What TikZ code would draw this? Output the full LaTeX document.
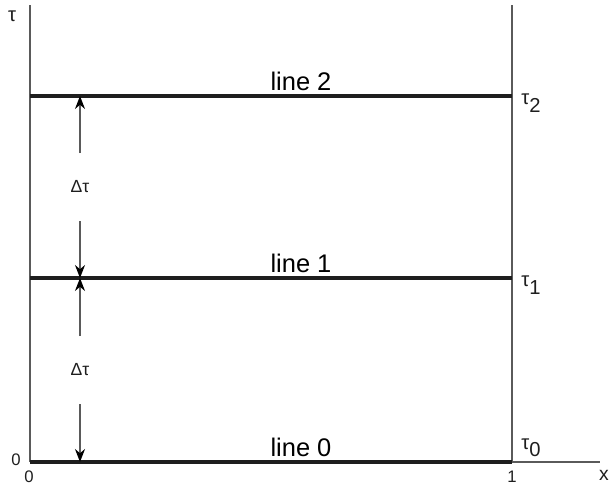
\documentclass[tikz,border=0pt]{standalone}
\usepackage{fontspec}
\setmainfont{Liberation Sans}
\usetikzlibrary{arrows.meta}
\definecolor{cdark}{HTML}{1E1E1E}
\definecolor{cgrey}{HTML}{5A5A5A}
\tikzset{
  every picture/.style={x=0.02cm, y=-0.02cm},
  axis/.style={draw=cgrey, line width=1.2pt},
  level/.style={draw=cdark, line width=1.8pt},
  arrow/.style={-{Stealth[length=2.6mm, width=2mm, color=black]}, draw=cgrey, line width=0.8pt},
  linelabel/.style={font=\fontsize{14.5}{17}\selectfont, inner sep=0pt},
  tick/.style={font=\fontsize{9.5}{11}\selectfont, inner sep=0pt, text=cdark},
}
\newcommand{\tsub}[1]{τ\raisebox{-0.7ex}{#1}}

\begin{document}
\begin{tikzpicture}
  \useasboundingbox (0,0) rectangle (609,488);
  % axes
  \draw[axis] (30,462) -- (30,5);
  \draw[axis] (512,462) -- (512,5);
  \draw[axis] (30,462) -- (600,462);
  % time lines
  \foreach \n/\y/\ty in {0/462/448, 1/278/285, 2/96/103} {
    \draw[level] (30,\y) -- (512,\y);
    \node[linelabel] (line\n) at (301,\y-15) {line \n};
    \node[tick, font=\fontsize{11.5}{13}\selectfont] (tau\n) at (531,\ty) {\tsub{\n}};
  }
  % spacing arrows
  \foreach \k/\m/\top/\bot in {a/187/96/278, b/370/278/462} {
    \node[tick, font=\fontsize{10}{12}\selectfont] (dt\k) at (80,\m) {Δτ};
    \coordinate (ta\k) at (80,\m-34);
    \coordinate (tb\k) at (80,\m+34);
    \coordinate (up\k) at (80,\top);
    \coordinate (dn\k) at (80,\bot);
    \draw[arrow] (ta\k) -- (up\k);
    \draw[arrow] (tb\k) -- (dn\k);
  }
  % axis labels
  \node[tick, font=\fontsize{11.5}{13}\selectfont] (tauaxis) at (12,16) {τ};
  \node[tick] (zeroy) at (16,460) {0};
  \node[tick] (zerox) at (29,477) {0};
  \node[tick] (onex) at (512,477) {1};
  \node[tick, font=\fontsize{11}{13}\selectfont] (xaxis) at (604,475) {x};
\end{tikzpicture}
\end{document}
